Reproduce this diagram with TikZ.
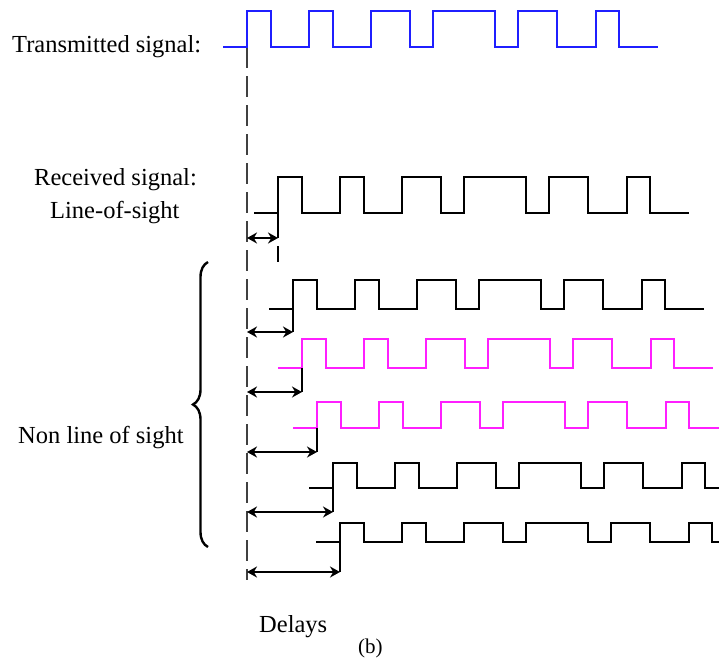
\documentclass[tikz,border=0pt]{standalone}
\usepackage{fontspec}
\setmainfont{Liberation Serif}
\usetikzlibrary{arrows.meta,decorations.pathreplacing}
\definecolor{txblue}{HTML}{1F1FFF}
\definecolor{pathpink}{HTML}{FF1FFF}
\tikzset{
  wave/.style  = {line width=2.4pt},
  guide/.style = {line width=2.2pt, black!75, dash pattern=on 21pt off 8pt},
  delay/.style = {{Stealth[length=10pt,width=11pt]}-{Stealth[length=10pt,width=11pt]},
                  line width=2.4pt},
  lbl/.style   = {anchor=base west, inner sep=0pt},
}
% same bit pattern on every path: #1 name, #2 colour, #3 rise x, #4 low y, #5 high y
\newcommand{\pulsetrain}[5]{%
  \draw[wave,#2] (#3-24,#4) -- (#3,#4) coordinate (#1)
    |- (#3+24,#5) |- (#3+62,#4) |- (#3+86,#5) |- (#3+124,#4)
    |- (#3+163,#5) |- (#3+186,#4) |- (#3+248,#5) |- (#3+271,#4)
    |- (#3+310,#5) |- (#3+349,#4) |- (#3+372,#5) |- (#3+411,#4);
}

\begin{document}
\begin{tikzpicture}[x=1pt,y=-1pt,font=\fontsize{24.5}{28}\selectfont]
\clip (0,0) rectangle (719,667);
\coordinate (tx0) at (247,47);
\draw[guide] (tx0) -- (tx0 |- 0,580) coordinate (ref);
\pulsetrain{tx}{txblue}{247}{47}{11}
\pulsetrain{los}{black}{278}{213}{177}
\pulsetrain{p1}{black}{293}{309}{280}
\pulsetrain{p2}{pathpink}{302}{368}{339}
\pulsetrain{p3}{pathpink}{317}{428}{402}
\pulsetrain{p4}{black}{333}{488}{463}
\pulsetrain{p5}{black}{340}{542}{523}
% delay of each path against the transmitted edge
\foreach \p/\y in {los/238, p1/332, p2/392, p3/452, p4/512, p5/572} {
  \draw[wave] (\p) -- (\p |- 0,\y) coordinate (\p-d);
  \draw[delay] (ref |- \p-d) -- (\p-d);
}
\draw[wave] (los |- 0,246) -- (los |- 0,262);
\draw[wave,decorate,decoration={brace,amplitude=15pt}] (208,547) -- (208,262);
\node[lbl] (txlbl) at (12,52) {Transmitted signal:};
\node[lbl] (rxlbl) at (34,185) {Received signal:};
\node[lbl] (loslbl) at (50,218) {Line-of-sight};
\node[lbl] (nloslbl) at (18,443) {Non line of sight};
\node[lbl] (delaylbl) at (259,632) {Delays};
\node[lbl,font=\fontsize{21}{24}\selectfont] (sublbl) at (358,653) {(b)};
\end{tikzpicture}
\end{document}
